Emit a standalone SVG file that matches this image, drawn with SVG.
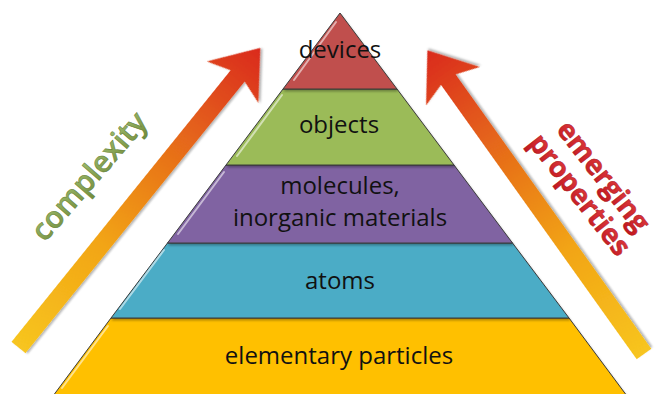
<svg xmlns="http://www.w3.org/2000/svg" width="662" height="394" viewBox="0 0 662 394">
<style>
.lbl{font-family:"Open Sans","Liberation Sans",sans-serif;font-size:24px;fill:#111;text-anchor:middle}
.layer{stroke:#3a3a3a;stroke-width:1}
.hl{stroke:#ffffff;stroke-opacity:0.55;stroke-width:2;fill:none;stroke-linecap:round}
.arrowtxt{font-family:"Open Sans","Liberation Sans",sans-serif;text-anchor:middle}
</style>
<defs>
<linearGradient id="arrG" x1="0" y1="0" x2="1" y2="0">
<stop offset="0" stop-color="#F7C520"/>
<stop offset="0.35" stop-color="#F2A414"/>
<stop offset="0.7" stop-color="#E5661A"/>
<stop offset="1" stop-color="#DA2A1A"/>
</linearGradient>
<linearGradient id="grnT" x1="0" y1="0" x2="0" y2="1">
<stop offset="0" stop-color="#A9C677"/>
<stop offset="1" stop-color="#6F8A3A"/>
</linearGradient>
<linearGradient id="redT" x1="0" y1="0" x2="0" y2="1">
<stop offset="0" stop-color="#E8474B"/>
<stop offset="1" stop-color="#C0151C"/>
</linearGradient>
<filter id="sh" x="-10%" y="-10%" width="120%" height="130%">
<feDropShadow dx="1" dy="2" stdDeviation="1.2" flood-color="#000" flood-opacity="0.3"/>
</filter>
</defs>
<rect width="662" height="394" fill="#ffffff"/>

<g id="connectors">
<g id="arrow-complexity" transform="translate(18.5,347.5) rotate(-51.1)" filter="url(#sh)">
<path d="M0,-9 L349,-9 L341,-33 L385,0 L341,33 L349,9 L0,9 Z" fill="url(#arrG)"/>
</g>
<g id="arrow-emerging" transform="translate(644,354) rotate(-125.5)" filter="url(#sh)">
<path d="M0,-9 L337,-9 L329,-33 L373,0 L329,33 L337,9 L0,9 Z" fill="url(#arrG)"/>
</g>
</g>

<g id="layer-elementary">
<polygon class="layer" points="111,318 569,318 630,400 50,400" fill="#FFC000" filter="url(#sh)"/>
<line class="hl" x1="108" y1="326" x2="62" y2="388"/>
<text class="lbl" x="339" y="364">elementary particles</text>
</g>
<g id="layer-atoms">
<polygon class="layer" points="167.5,243 512.5,243 569,318 111,318" fill="#4BACC6" filter="url(#sh)"/>
<line class="hl" x1="164" y1="250" x2="120" y2="309"/>
<text class="lbl" x="340" y="289">atoms</text>
</g>
<g id="layer-molecules">
<polygon class="layer" points="226,165 454,165 512.5,243 167.5,243" fill="#8064A2" filter="url(#sh)"/>
<line class="hl" x1="224" y1="172" x2="178" y2="234"/>
<text class="lbl" x="340" y="194" font-size="23">molecules,</text>
<text class="lbl" x="340" y="226" font-size="23">inorganic materials</text>
</g>
<g id="layer-objects">
<polygon class="layer" points="283,89 397,89 454,165 226,165" fill="#9BBB59" filter="url(#sh)"/>
<line class="hl" x1="282" y1="95" x2="237" y2="156"/>
<text class="lbl" x="339" y="133">objects</text>
</g>
<g id="layer-devices">
<polygon class="layer" points="340,13 397,89 283,89" fill="#C0504D" filter="url(#sh)"/>
<line class="hl" x1="336" y1="22" x2="294" y2="80"/>
<text class="lbl" x="340" y="58">devices</text>
</g>

<g id="label-complexity">
<text class="arrowtxt" x="0" y="0" font-size="30" font-weight="600" fill="url(#grnT)" stroke="#5E7A2E" stroke-width="0.5" transform="translate(97,183) rotate(-49)">complexity</text>
</g>
<g id="label-emerging" transform="translate(596,182) rotate(52)">
<text class="arrowtxt" x="0" y="0" font-size="28" font-weight="bold" fill="url(#redT)" stroke="#A8141A" stroke-width="0.5">emerging</text>
<text class="arrowtxt" x="0" y="30" font-size="28" font-weight="bold" fill="url(#redT)" stroke="#A8141A" stroke-width="0.5">properties</text>
</g>
</svg>
